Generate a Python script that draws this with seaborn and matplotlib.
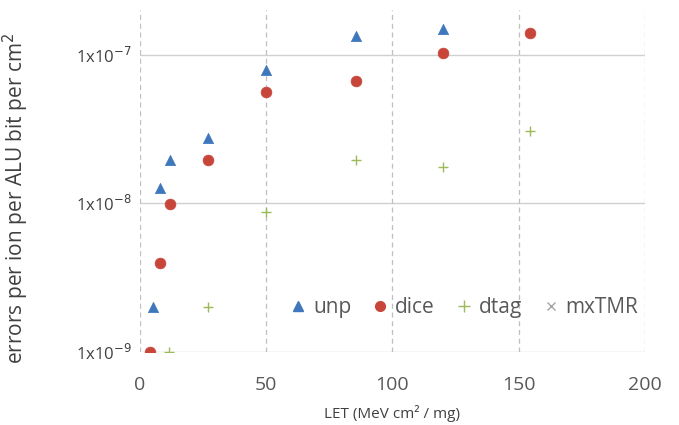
import numpy as np
import pandas as pd
import matplotlib
matplotlib.use("Agg")
import matplotlib.pyplot as plt
import seaborn as sns
from matplotlib.lines import Line2D

# --- data ---
unp_let = [5, 8, 12, 27, 50, 85.5, 120]
unp_err = [2.0e-9, 1.27e-8, 1.96e-8, 2.76e-8, 7.9e-8, 1.34e-7, 1.5e-7]

dice_let = [4, 8, 12, 27, 50, 85.5, 120, 154.5]
dice_err = [1.0e-9, 3.97e-9, 9.9e-9, 1.96e-8, 5.6e-8, 6.7e-8, 1.03e-7, 1.41e-7]

dtag_let = [11.5, 27, 50, 85.5, 120, 154.5]
dtag_err = [1.0e-9, 2.0e-9, 8.8e-9, 1.96e-8, 1.76e-8, 3.08e-8]

mxtmr_let = []
mxtmr_err = []

x_ticks = [0, 50, 100, 150, 200]
y_ticks = [1e-9, 1e-8, 1e-7]
y_tick_labels = ["1x10$^{-9}$", "1x10$^{-8}$", "1x10$^{-7}$"]

sns.set_style("white")
plt.rcParams["font.family"] = ["Open Sans", "DejaVu Sans"]

fig = plt.figure(figsize=(6.79, 4.25), dpi=100)
ax = fig.add_axes([0.206, 0.172, 0.744, 0.804])

series = [
    ("unp", unp_let, unp_err, "^", "#3F77BC", 55),
    ("dice", dice_let, dice_err, "o", "#C8453A", 60),
    ("dtag", dtag_let, dtag_err, "+", "#9BBB59", 60),
]
for name, xs, ys, mk, col, sz in series:
    df = pd.DataFrame({"LET": xs, "err": ys})
    if mk == "+":
        sns.scatterplot(data=df, x="LET", y="err", marker=mk, color=col, s=sz,
                        linewidth=1.0, ax=ax, zorder=3)
    else:
        sns.scatterplot(data=df, x="LET", y="err", marker=mk, color=col, s=sz,
                        edgecolor=col, linewidth=0.5, ax=ax, zorder=3)

ax.set_yscale("log")
ax.set_xlim(0, 200)
ax.set_ylim(1e-9, 2e-7)
ax.set_xticks(x_ticks)
ax.set_xticklabels([str(t) for t in x_ticks])
ax.set_yticks(y_ticks)
ax.set_yticklabels(y_tick_labels)
ax.yaxis.set_minor_locator(matplotlib.ticker.NullLocator())
ax.tick_params(axis="both", length=0)
ax.tick_params(axis="x", labelsize=14, labelcolor="#595959", pad=17)
ax.tick_params(axis="y", labelsize=12, labelcolor="#404040", pad=6)

for s in ax.spines.values():
    s.set_visible(False)

for yv in y_ticks:
    ax.axhline(yv, color="#D0D0D0", lw=1.0, zorder=1)
for xv in x_ticks:
    ax.axvline(xv, color="#BFBFBF", lw=0.9, ls=(0, (4, 3)), zorder=1)

ax.set_xlabel("LET (MeV cm² / mg)", fontsize=11, color="#404040", labelpad=8)
ax.set_ylabel("errors per ion per ALU bit per cm$^2$", fontsize=15, color="#404040")
ax.yaxis.set_label_coords(-0.215, 0.45)

handles = [
    Line2D([], [], ls="", marker="^", color="#3F77BC", markersize=7),
    Line2D([], [], ls="", marker="o", color="#C8453A", markersize=7),
    Line2D([], [], ls="", marker="+", color="#9BBB59", markersize=8, mew=1.0),
    Line2D([], [], ls="", marker="x", color="#A5A5A5", markersize=6, mew=1.0),
]
ax.legend(handles, ["unp", "dice", "dtag", "mxTMR"], ncol=4, frameon=False,
          loc="center", bbox_to_anchor=(0.64, 0.13), fontsize=15,
          labelcolor="#595959", handletextpad=0.2, columnspacing=0.9,
          handlelength=1.0)

fig.savefig("out.png", dpi=100)
